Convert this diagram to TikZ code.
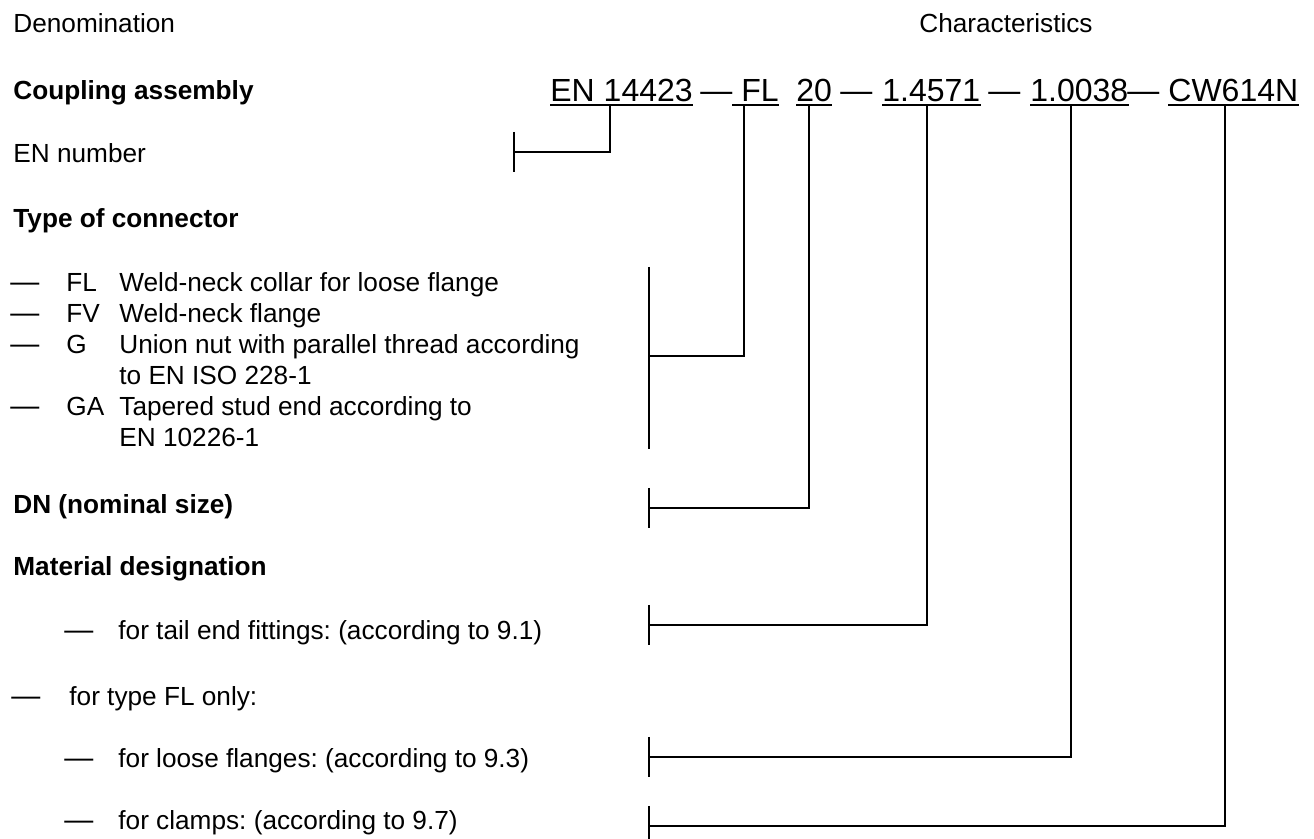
\documentclass[tikz,border=0pt]{standalone}
\usepackage{fontspec}
\setmainfont{Liberation Sans}
\frenchspacing
\usetikzlibrary{calc,positioning}
\tikzset{
  txt/.style={
    anchor = base west,
    inner sep = 0pt,
    font = \fontsize{13.1}{15}\selectfont
  },
  head/.style={
    txt,
    font = \fontsize{13.1}{15}\selectfont\bfseries
  },
  dsh/.style={
    txt,
    font = \fontsize{14.5}{15}\selectfont
  },
  code/.style={
    anchor = base west,
    inner sep = 0pt,
    font = \fontsize{16}{19}\selectfont
  },
}
\tikzset{
  lead/.style={
    line width = 0.8pt
  },
  uline/.style={
    line width = 1.4pt
  },
}

\begin{document}
\begin{tikzpicture}[x=0.5pt,y=-0.5pt]
\useasboundingbox (0,0) rectangle (1314,839);
\node[txt] (denom) at (13,33) {Denomination};
\node[txt, anchor=base east] (charac) at (1093,33) {Characteristics};
\node[head] (coupl) at (13,100) {Coupling assembly};
\node[txt] (ennum) at (13,163) {EN number};
\node[head] (typecon) at (13,228) {Type of connector};
		  \foreach \n/\y/\d in {FL/292/Weld-neck collar for loose flange,FV/323/Weld-neck flange,G/354/Union nut with parallel thread according,GA/416/Tapered stud end according to}{
		    \node[dsh] (dash\n) at (10,\y) {—};
		    \node[txt] (type\n) at (66,\y) {\n};
		    \node[txt] (desc\n) at (119,\y) {\d}; }
\node[txt] (descGb) at (119,385) {to EN ISO 228-1};
\node[txt] (descGAb) at (119,447) {EN 10226-1};
\node[head] (dn) at (13,514) {DN (nominal size)};
\node[head] (matdes) at (13,576) {Material designation};
\node[dsh] (dashtail) at (64,640) {—};
\node[txt] (tail) at (118,640) {for tail end fittings: (according to 9.1)};
\node[dsh] (dashonly) at (11,706) {—};
\node[txt] (only) at (69,706) {for type FL only:};
\node[dsh] (dashloose) at (64,768) {—};
\node[txt] (loose) at (118,768) {for loose flanges: (according to 9.3)};
\node[dsh] (dashclamp) at (64,830) {—};
\node[txt] (clamp) at (118,830) {for clamps: (according to 9.7)};
% designation
\node[code] (cEN) at (550,102) {EN 14423};
\node[code] (d1) at (700,102) {—};
\node[code] (cFL) at (732,102) {\hspace*{.278em}FL};
\node[code] (c20) at (796,102) {20};
\node[code] (d2) at (840,102) {—};
\node[code] (cMa) at (882,102) {1.4571};
\node[code] (d3) at (988,102) {—};
\node[code] (cMb) at (1030,102) {1.0038};
\node[code] (d4) at (1127,102) {—};
\node[code] (cMc) at (1168,102) {CW614N};
		  \foreach \c in {cEN,cFL,c20,cMa,cMb,cMc}{
		    \draw[uline] ([yshift=-1.5pt]\c.base west) -- ([yshift=-1.5pt]\c.base east); }
% leaders
\coordinate (pEN) at (610,105);
\coordinate (pFL) at (744,105);
\coordinate (p20) at (809,105);
\coordinate (pMa) at (927,105);
\coordinate (pMb) at (1071,105);
\coordinate (pMc) at (1225,105);
\coordinate (tEN) at (514,152);
\coordinate (tFL) at (649,356);
\coordinate (t20) at (649,508);
\coordinate (tMa) at (649,625);
\coordinate (tMb) at (649,757);
\coordinate (tMc) at (649,826);
		  \foreach \c in {EN,FL,20,Ma,Mb,Mc}{
		    \draw[lead] (p\c) |- (t\c); }
		  \foreach \c in {EN,20,Ma,Mb,Mc}{
		    \draw[lead] (t\c) ++(0,-20) -- ++(0,40); }
\draw[lead] (649,267) -- (tFL) -- (649,449);
\end{tikzpicture}
\end{document}
